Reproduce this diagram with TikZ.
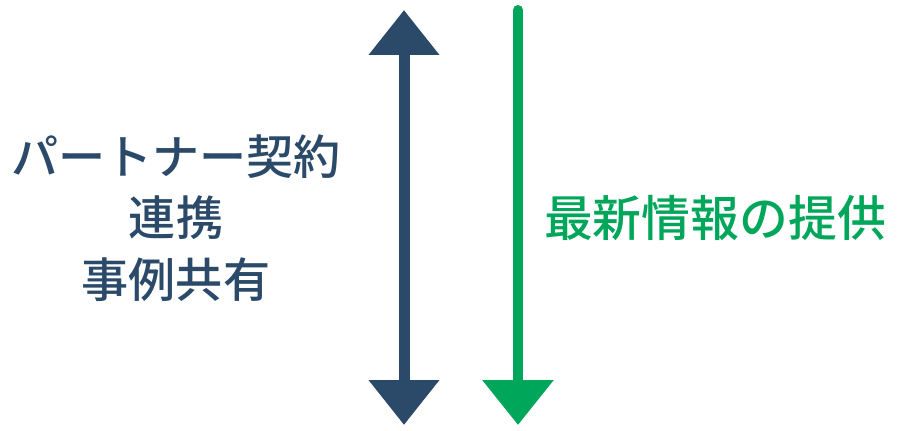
\documentclass[tikz,border=0pt]{standalone}
\usepackage{fontspec}
\usetikzlibrary{arrows.meta,positioning}
\newfontfamily\jpfont{Noto Sans CJK JP Medium}
\definecolor{navy}{HTML}{2B4A69}
\definecolor{leaf}{HTML}{00A65A}

\begin{document}
\begin{tikzpicture}[
                    x=0.02cm,
                    y=-0.02cm,
                    label/.style={font=\jpfont\fontsize{26.8pt}{35pt}\selectfont, align=center, inner sep=0pt},
                    both/.style={{Triangle[width=1.36cm,length=0.9cm]}-{Triangle[width=1.36cm,length=0.9cm]}, line width=0.22cm, navy},
                    down/.style={-{Triangle[width=1.38cm,length=0.9cm]}, line width=0.2cm, line cap=round, leaf}
                ]
                \useasboundingbox (0,0) rectangle (900,430);

                \coordinate (partner-top) at (404,10);
                \coordinate (partner-bottom) at (404,425);
                \coordinate (news-top) at (518,10);
                \coordinate (news-bottom) at (518,425);

                \node[label, text=navy] (partner) at (176,218) {パートナー契約\\連携\\事例共有};
                \node[label, text=leaf, font=\jpfont\fontsize{27.8pt}{35pt}\selectfont] (news) at (715,218) {最新情報の提供};

                \draw[both] (partner-top) -- (partner-bottom);
                \draw[down] (news-top) -- (news-bottom);
            \end{tikzpicture}
\end{document}
